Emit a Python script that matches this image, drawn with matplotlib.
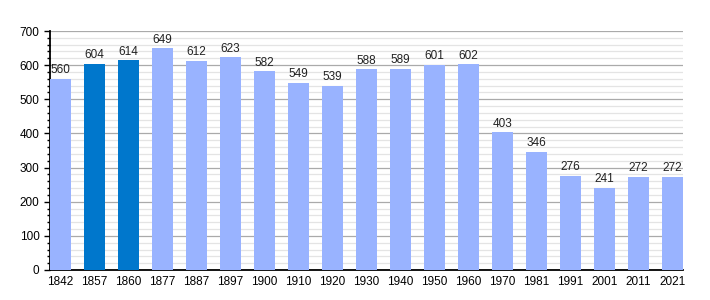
import numpy as np
import matplotlib
matplotlib.use("Agg")
import matplotlib.pyplot as plt
from matplotlib.ticker import MultipleLocator

# census years and population
years = ["1842", "1857", "1860", "1877", "1887", "1897", "1900", "1910", "1920",
         "1930", "1940", "1950", "1960", "1970", "1981", "1991", "2001", "2011", "2021"]
population = [560, 604, 614, 649, 612, 623, 582, 549, 539,
              588, 589, 601, 602, 403, 346, 276, 241, 272, 272]
highlight = ["1857", "1860"]

plt.rcParams['font.family'] = ['Liberation Sans', 'DejaVu Sans']

fig = plt.figure(figsize=(7.1, 3.0), dpi=100)
ax = fig.add_axes([50 / 710, 30 / 300, 633 / 710, 239 / 300])

x = np.arange(len(years))
colors = ['#0077cc' if y in highlight else '#99b3ff' for y in years]
w = 0.62
ax.bar(x, population, width=w, color=colors, zorder=3)

for xi, v in zip(x, population):
    ax.text(xi, v + 8, str(v), ha='center', va='bottom', fontsize=8.5, color='#222222', zorder=4)

ax.set_xlim(-w / 2, len(years) - 1 + w / 2)
ax.set_ylim(0, 700)
ax.set_xticks(x)
ax.set_xticklabels(years, fontsize=8.5)
ax.yaxis.set_major_locator(MultipleLocator(100))
ax.yaxis.set_minor_locator(MultipleLocator(20))
ax.tick_params(axis='y', labelsize=8.5, which='major', length=4, width=1)
ax.tick_params(axis='y', which='minor', length=2, width=1)
ax.tick_params(axis='x', length=0, pad=4)

ax.grid(axis='y', which='major', color='#aaaaaa', linewidth=0.9, zorder=1)
ax.grid(axis='y', which='minor', color='#e4e4e4', linewidth=0.9, zorder=0)

for s in ['top', 'right']:
    ax.spines[s].set_visible(False)
ax.spines['left'].set_linewidth(1.3)
ax.spines['bottom'].set_linewidth(1.3)

fig.savefig("out.png", dpi=100)
